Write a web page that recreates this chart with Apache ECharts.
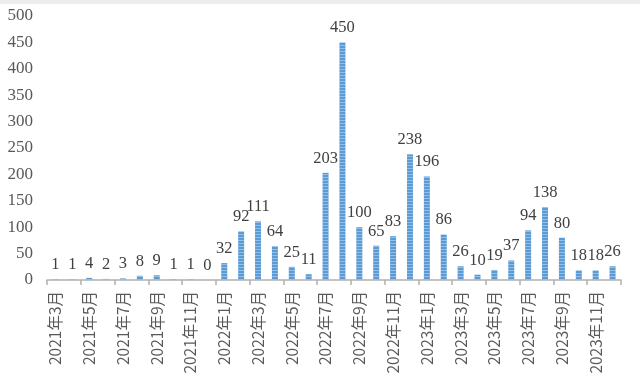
<!DOCTYPE html>
<html><head><meta charset="utf-8">
<script src="https://cdn.jsdelivr.net/npm/echarts@6/dist/echarts.min.js"></script>
<style>html,body{margin:0;padding:0;background:#fff}#c{width:640px;height:388px}</style>
</head><body><div id="c"></div>
<script>
const categories = ['2021年3月','2021年4月','2021年5月','2021年6月','2021年7月','2021年8月','2021年9月','2021年10月','2021年11月','2021年12月',
'2022年1月','2022年2月','2022年3月','2022年4月','2022年5月','2022年6月','2022年7月','2022年8月','2022年9月','2022年10月','2022年11月','2022年12月',
'2023年1月','2023年2月','2023年3月','2023年4月','2023年5月','2023年6月','2023年7月','2023年8月','2023年9月','2023年10月','2023年11月','2023年12月'];
const values = [1,1,4,2,3,8,9,1,1,0,32,92,111,64,25,11,203,450,100,65,83,238,196,86,26,10,19,37,94,138,80,18,18,26];
const yTicks = [0,50,100,150,200,250,300,350,400,450,500];

const chart = echarts.init(document.getElementById('c'));
chart.setOption({
  animation:false,
  backgroundColor:'#fff',
  graphic:[{type:'rect',shape:{x:0,y:0,width:640,height:4},style:{fill:'#ececec'}}],
  grid:{left:47,right:19,top:16,bottom:108,containLabel:false},
  xAxis:{type:'category',data:categories,
    axisLine:{lineStyle:{color:'#b0b0b0',width:1.5}},
    axisTick:{show:true,interval:1,length:5,lineStyle:{color:'#b0b0b0',width:1.5}},
    axisLabel:{interval:1,rotate:90,margin:11,color:'#595959',fontSize:15.5,fontFamily:'"Noto Sans CJK JP", "Liberation Serif", serif'}},
  yAxis:{type:'value',min:yTicks[0],max:yTicks[yTicks.length-1],interval:50,
    axisLine:{show:false},axisTick:{show:false},splitLine:{show:false},
    axisLabel:{color:'#595959',fontSize:17,fontFamily:'"Liberation Serif", "DejaVu Serif", serif',margin:14}},
  series:[{type:'bar',data:values,barWidth:6,
    itemStyle:{color:'#5b9bd5',decal:{symbol:'rect',dashArrayX:[1,0],dashArrayY:[1,2],color:'rgba(255,255,255,0.35)'}},
    label:{show:true,position:'top',distance:6,color:'#404040',fontSize:16.5,fontFamily:'"Liberation Serif", "DejaVu Serif", serif'}}]
});
</script></body></html>
